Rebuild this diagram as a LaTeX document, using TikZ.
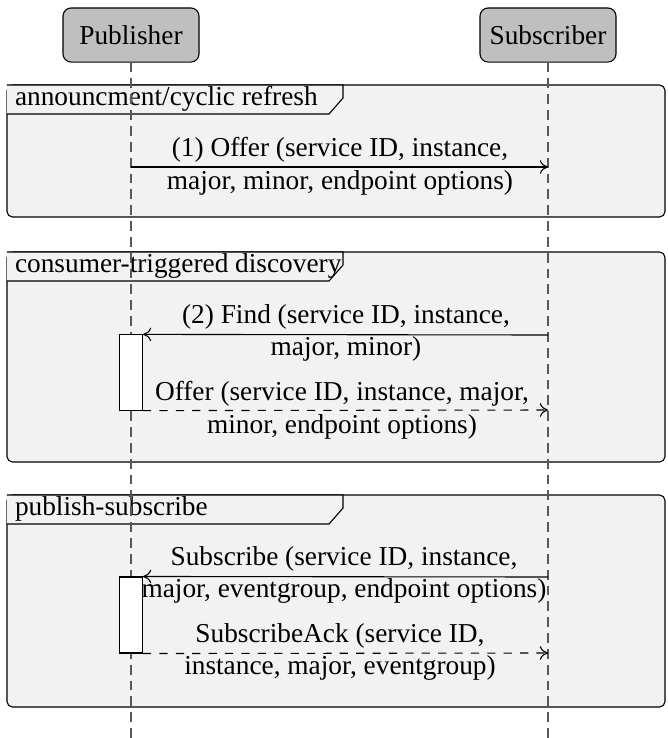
\documentclass[tikz,border=0pt]{standalone}
\usepackage{fontspec}
\setmainfont{Liberation Serif}
\usetikzlibrary{positioning,arrows.meta}

\tikzset{
    instance/.style={draw,fill=gray!50,rounded corners=3pt,minimum width=49.8pt,minimum height=19.8pt,inner sep=0pt},
    lifeline/.style={draw=black!65,line width=0.6pt,dash pattern=on 3.6pt off 2.2pt},
    blockframe/.style={draw,fill=gray!10,rounded corners=2pt},
    blocktab/.style={draw,fill=gray!10},
    blocklabel/.style={anchor=west,inner sep=2pt},
    activation/.style={draw,fill=white,minimum width=8.4pt,inner sep=0pt},
    msglabel/.style={align=center,inner sep=0pt},
    call/.style={-{To[length=3pt,width=5pt]}},
    reply/.style={-{To[length=3pt,width=5pt]},dashed}
}

\begin{document}
\begin{tikzpicture}[x=0.366pt,y=-0.366pt]
        \useasboundingbox (0,0) rectangle (668,738);
        % Draw the three frames
        \draw[blockframe] (7,85) rectangle (665,217);
        \draw[blocktab] (7,85) -- (343,85) -- (343,98) -- (329,114) -- (7,114);
        \node[blocklabel] (announce) at (9,99) {announcment/cyclic refresh};

        \draw[blockframe] (7,252) rectangle (665,462);
        \draw[blocktab] (7,252) -- (343,252) -- (343,265) -- (329,281) -- (7,281);
        \node[blocklabel] (discovery) at (9,266) {consumer-triggered discovery};

        \draw[blockframe] (7,495) rectangle (665,707);
        \draw[blocktab] (7,495) -- (343,495) -- (343,508) -- (329,524) -- (7,524);
        \node[blocklabel] (pubsub) at (9,509) {publish-subscribe};

        % Draw instances and lifelines
        \node[instance] (pub) at (131,35) {Publisher};
        \node[instance] (sub) at (548,35) {Subscriber};
        \coordinate (pub end) at (131,738);
        \coordinate (sub end) at (548,738);
        \draw[lifeline] (pub.south) -- (pub end);
        \draw[lifeline] (sub.south) -- (sub end);

        % Draw activations
        \node[activation,minimum height=27.5pt] (act find) at (131,372.5) {};
        \node[activation,minimum height=27.8pt] (act subscribe) at (131,615) {};

        % Draw message (1)
        \coordinate (pub offer) at (131,167);
        \coordinate (sub offer) at (548,167);
        \draw[call] (pub offer) -- (sub offer);
        \node[msglabel] (offer label) at (340,166) {(1) Offer (service ID, instance,\\major, minor, endpoint options)};

        % Draw message (2) and its answer
        \coordinate (sub find) at (548,335);
        \coordinate (sub answer) at (548,410);
        \draw[call] (sub find) -- (act find.north east);
        \draw[reply] (act find.south east) -- (sub answer);
        \node[msglabel] (find label) at (346,333) {(2) Find (service ID, instance,\\major, minor)};
        \node[msglabel] (answer label) at (342,410) {Offer (service ID, instance, major,\\minor, endpoint options)};

        % Draw subscription and its ack
        \coordinate (sub subscribe) at (548,577);
        \coordinate (sub ack) at (548,653);
        \draw[call] (sub subscribe) -- (act subscribe.north east);
        \draw[reply] (act subscribe.south east) -- (sub ack);
        \node[msglabel] (subscribe label) at (344,575) {Subscribe (service ID, instance,\\major, eventgroup, endpoint options)};
        \node[msglabel] (ack label) at (340,652) {SubscribeAck (service ID,\\instance, major, eventgroup)};
\end{tikzpicture}
\end{document}
